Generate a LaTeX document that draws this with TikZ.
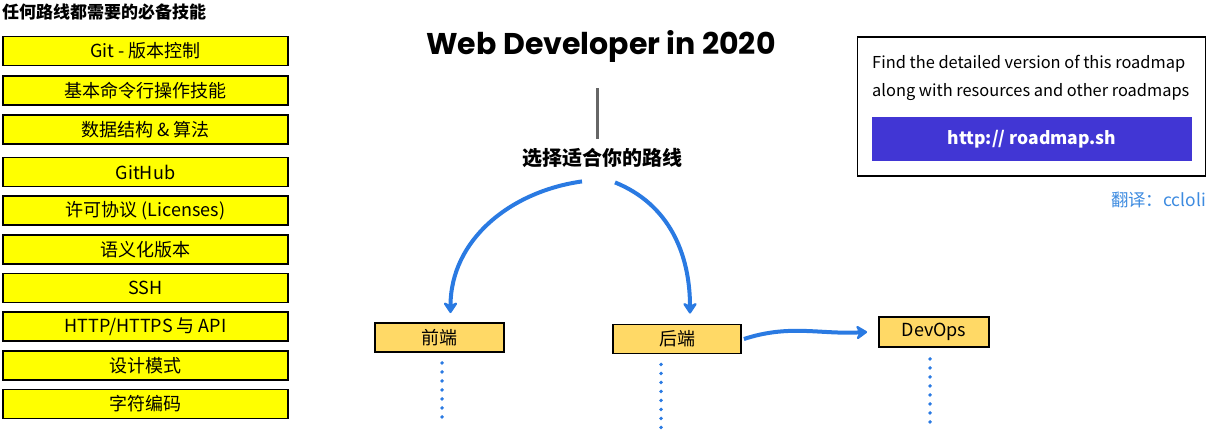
\documentclass[tikz,border=0pt]{standalone}
\usepackage{fontspec}
\setmainfont{Noto Sans CJK SC}
\newfontfamily\titlefont{Poppins}
\usetikzlibrary{arrows.meta, positioning}
\definecolor{skillYellow}{HTML}{FFFF00}
\definecolor{roleOrange}{HTML}{FFD966}
\definecolor{routeBlue}{HTML}{2A7AE2}
\definecolor{linkBlue}{HTML}{4136D4}
\definecolor{creditBlue}{HTML}{3D8BE0}
\definecolor{stemGray}{gray}{0.4}

\tikzset{
  skill/.style={draw=black, line width=1.8pt, fill=skillYellow, minimum width=285pt,
    minimum height=29pt, inner sep=0pt, font=\fontsize{18}{18}\selectfont},
  role/.style={draw=black, line width=1.8pt, fill=roleOrange, minimum height=29pt,
    inner sep=0pt, font=\fontsize{18}{18}\selectfont},
  route/.style={-{Stealth[length=13pt, width=17pt, round]}, line width=4pt, routeBlue},
  trail/.style={routeBlue, line width=3.8pt, line cap=round, dash pattern=on 0pt off 9pt},
  note/.style={anchor=west, inner sep=0pt, font=\fontsize{16.4}{16.4}\selectfont}
}

\begin{document}
\begin{tikzpicture}[x=1pt, y=-1pt, >=Stealth]
    \useasboundingbox (0,0) rectangle (1207,436);

    % skills everyone needs
    \node[anchor=west, inner sep=0pt, font=\fontsize{17}{17}\selectfont\bfseries] (need) at (2,12.5) {任何路线都需要的必备技能};
    \foreach \y/\name/\txt in {51/git/{Git - 版本控制}, 90.5/cli/{基本命令行操作技能},
        129.5/algo/{数据结构 \& 算法}, 172/github/{GitHub}, 210.5/license/{许可协议 (Licenses)},
        249.5/semver/{语义化版本}, 288/ssh/{SSH}, 326.5/http/{HTTP/HTTPS 与 API},
        365.5/pattern/{设计模式}, 404/encoding/{字符编码}}
        \node[skill] (\name) at (145.5,\y) {\txt};

    % title and choice
    \node[inner sep=0pt, font=\titlefont\fontsize{30}{30}\selectfont\bfseries] (title) at (601,46) {Web Developer in 2020};
    \node[inner sep=0pt, font=\fontsize{20}{20}\selectfont\bfseries] (choose) at (602,157.5) {选择适合你的路线};
    \coordinate (stemTop) at (597,88);
    \draw[stemGray, line width=3pt, shorten >=9pt] (stemTop) -- (stemTop |- choose.north);

    % roles
    \node[role, minimum width=129pt] (front) at (439.5,337.5) {前端};
    \node[role, minimum width=128pt] (back) at (677,339) {后端};
    \node[role, minimum width=110pt, minimum height=30pt] (devops) at (934,332) {DevOps};

    \draw[route] ([shift={(-20pt,-14pt)}]choose.south) to[out=188, in=90] ([shift={(11pt,9pt)}]front.north);
    \draw[route] ([shift={(13pt,-15pt)}]choose.south) to[out=-22, in=90] ([shift={(13pt,10pt)}]back.north);
    \draw[route] ([xshift=2pt]back.east) to[out=18, in=183] ([xshift=-11pt]devops.west);

    % dotted continuation
    \coordinate (frontEnd) at (442,425);
    \coordinate (backEnd) at (661,428);
    \coordinate (devopsEnd) at (930,430);
    \draw[trail] (front.south -| frontEnd) ++(0,10) -- (frontEnd);
    \draw[trail] (back.south -| backEnd) ++(0,10) -- (backEnd);
    \draw[trail] (devops.south -| devopsEnd) ++(0,11) -- (devopsEnd);

    % link box
    \node[draw=black, line width=1.8pt, minimum width=348pt, minimum height=139pt, inner sep=0pt] (info) at (1031.5,106.5) {};
    \node[note] (line1) at (872,64) {Find the detailed version of this roadmap};
    \node[note] (line2) at (872,92) {along with resources and other roadmaps};
    \node[fill=linkBlue, text=white, minimum width=320pt, minimum height=44pt, inner sep=0pt,
        font=\fontsize{17.5}{17.5}\selectfont\bfseries] (link) at (1032,139) {http:// roadmap.sh};
    \node[anchor=east, inner sep=0pt, text=creditBlue, font=\fontsize{17.4}{17.4}\selectfont] (credit) at (1206,200) {翻译：ccloli};
\end{tikzpicture}
\end{document}
